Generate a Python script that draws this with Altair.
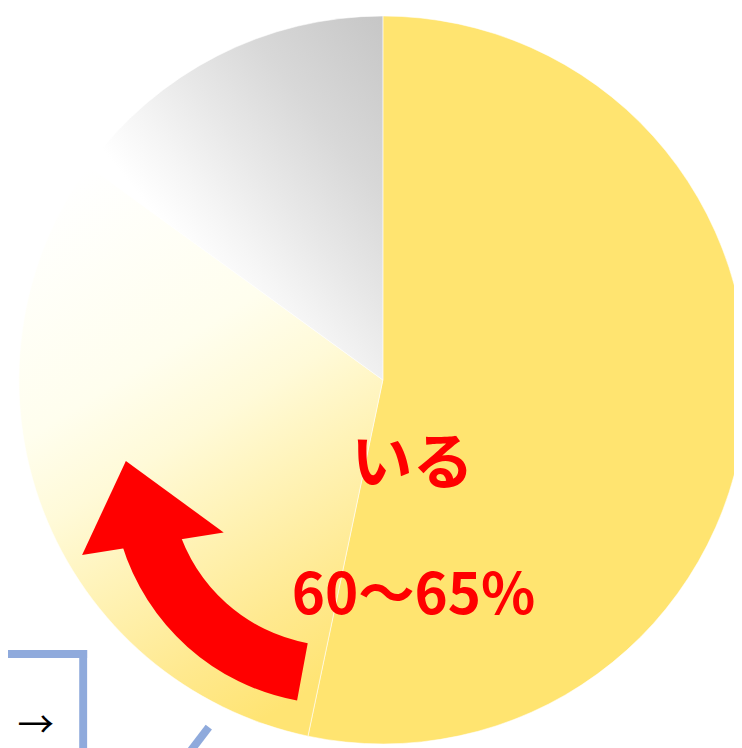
import math
import altair as alt
import pandas as pd

# ---- data ----
categories = ["いる", "いない", "わからない"]
values = [53.3, 31.7, 15.0]
label_main = "いる"
label_range = "60〜65%"
box_text = "→"

starts, ends = [], []
acc = 0.0
for v in values:
    starts.append(acc)
    acc += v
    ends.append(acc)
pie_df = pd.DataFrame({"category": categories, "value": values,
                       "start": starts, "end": ends})
one_df = pd.DataFrame({"k": [0]})

YELLOW = "#FFE470"
RED = "#FF0000"
BLUE = "#8FAADC"
FONT = "Noto Sans CJK JP"

mid_grad = {
    "gradient": "linear", "x1": 0.2, "y1": 0, "x2": 0.6, "y2": 1,
    "stops": [
        {"offset": 0, "color": "#FFFFFF"},
        {"offset": 0.35, "color": "#FFFEEE"},
        {"offset": 0.5, "color": "#FFFAD8"},
        {"offset": 0.65, "color": "#FFF3B8"},
        {"offset": 0.85, "color": "#FFE98F"},
        {"offset": 1, "color": "#FFE473"},
    ],
}
gray_grad = {
    "gradient": "linear", "x1": 1, "y1": 0, "x2": 0, "y2": 1,
    "stops": [
        {"offset": 0, "color": "#C6C6C6"},
        {"offset": 0.25, "color": "#D8D8D8"},
        {"offset": 0.42, "color": "#E8E8E8"},
        {"offset": 0.55, "color": "#F5F5F5"},
        {"offset": 0.66, "color": "#FFFFFF"},
        {"offset": 1, "color": "#FFFFFF"},
    ],
}
fills = [YELLOW, mid_grad, gray_grad]


def build(off, pad):
    cx, cy, R = 387 + off, 380 + off, 368
    theta_scale = alt.Scale(domain=[0, 100], range=[0, 2 * math.pi])
    layers = []
    for cat, fill in zip(categories, fills):
        layers.append(
            alt.Chart(pie_df)
            .transform_filter(alt.datum.category == cat)
            .mark_arc(fill=fill, stroke="#FFFFFF", strokeWidth=0.8,
                      strokeOpacity=0.7, radius=R)
            .encode(
                theta=alt.Theta("start:Q", scale=theta_scale, stack=False),
                theta2="end:Q",
                x=alt.value(cx),
                y=alt.value(cy),
            )
        )
    # curved red arrow: shaft
    layers.append(
        alt.Chart(one_df)
        .mark_arc(fill=RED, theta=math.radians(190.5), theta2=math.radians(253),
                  radius=229, radius2=170)
        .encode(x=alt.value(342 + off), y=alt.value(479 + off))
    )
    # arrow head
    layers.append(
        alt.Chart(one_df)
        .mark_point(shape="M-0.906,0L0.906,0L-0.174,-1.085Z", size=25600,
                    filled=True, fill=RED, opacity=1, strokeWidth=0, angle=351)
        .encode(x=alt.value(154.5 + off), y=alt.value(545.5 + off))
    )
    # labels
    layers.append(
        alt.Chart(one_df)
        .mark_text(text=label_main, font=FONT, fontSize=62, fontWeight="bold",
                   color=RED, align="center", baseline="alphabetic")
        .encode(x=alt.value(417 + off), y=alt.value(485 + off))
    )
    layers.append(
        alt.Chart(one_df)
        .mark_text(text=label_range, font=FONT, fontSize=57, fontWeight="bold",
                   color=RED, align="center", baseline="alphabetic")
        .encode(x=alt.value(418 + off), y=alt.value(617 + off))
    )
    # blue box and line
    layers.append(
        alt.Chart(one_df).mark_rule(color=BLUE, strokeWidth=8)
        .encode(x=alt.value(-10 + off), x2=alt.value(88 + off), y=alt.value(657 + off))
    )
    layers.append(
        alt.Chart(one_df).mark_rule(color=BLUE, strokeWidth=8)
        .encode(x=alt.value(84 + off), y=alt.value(653 + off), y2=alt.value(770 + off))
    )
    layers.append(
        alt.Chart(one_df).mark_rule(color=BLUE, strokeWidth=8, strokeCap="butt")
        .encode(x=alt.value(211 + off), y=alt.value(731 + off),
                x2=alt.value(185 + off), y2=alt.value(765 + off))
    )
    layers.append(
        alt.Chart(one_df)
        .mark_text(text=box_text, font=FONT, fontSize=37, color="#000000",
                   align="center", baseline="middle")
        .encode(x=alt.value(36 + off), y=alt.value(731 + off))
    )
    w = 742 if off == 0 else 726
    h = 748 if off == 0 else 732
    return (
        alt.layer(*layers)
        .properties(width=w, height=h, padding=pad,
                    autosize=alt.AutoSizeParams(type="none"),
                    background="#FFFFFF")
        .configure_view(stroke=None)
    )


try:
    chart = build(0, {"left": -8, "top": -8, "right": 0, "bottom": 0})
    chart.to_dict()
except Exception:
    chart = build(-8, 0)

chart.save("out.html", embed_options={"renderer": "svg", "actions": False})
